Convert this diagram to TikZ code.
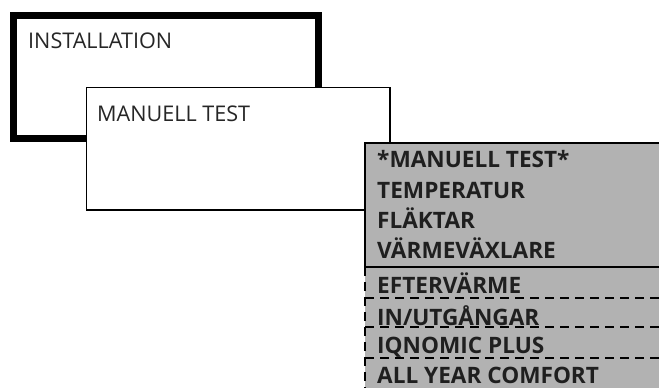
\documentclass[tikz,border=0pt]{standalone}
\usepackage{fontspec}
\setmainfont{Open Sans}
\begin{document}
\begin{tikzpicture}[x=1pt,y=-1pt]
\tikzset{
  lbl/.style={anchor=base west,inner sep=0pt,font=\fontsize{21.6}{26}\selectfont,text=black!85},
  itm/.style={anchor=base west,inner sep=0pt,font=\fontsize{22.6}{27}\selectfont\bfseries,text=black!88},
  dsh/.style={line width=2pt,dash pattern=on 9pt off 6pt}
}
\useasboundingbox (0,0) rectangle (659,388);
\begin{scope}
\clip (0,0) rectangle (659,388);
% outer box
\draw[line width=7pt] (13.5,15.5) rectangle (318.5,138.5);
\node[lbl] (inst) at (28,48) {INSTALLATION};
% second box
\draw[line width=1.3pt,fill=white] (86.5,87.5) rectangle (390,210);
\node[lbl] (mt) at (97,121) {MANUELL TEST};
% gray menu
\fill[black!30] (365,143) rectangle (670,395);
\draw[line width=1.3pt] (670,143) -- (365,143) -- (365,267) -- (670,267);
\draw[dsh] (365,267) -- (365,395);
\draw[dsh] (365,298) -- (670,298);
\draw[dsh] (365,327) -- (670,327);
\draw[dsh] (365,358) -- (670,358);
\end{scope}
\node[itm] (i1) at (377,167) {*MANUELL TEST*};
\node[itm] (i2) at (377,198) {TEMPERATUR};
\node[itm] (i3) at (377,228) {FLÄKTAR};
\node[itm] (i4) at (377,258) {VÄRMEVÄXLARE};
\node[itm] (i5) at (377,293) {EFTERVÄRME};
\node[itm] (i6) at (377,325) {IN/UTGÅNGAR};
\node[itm] (i7) at (377,353) {IQNOMIC PLUS};
\node[itm] (i8) at (377,383) {ALL YEAR COMFORT};
\end{tikzpicture}
\end{document}
